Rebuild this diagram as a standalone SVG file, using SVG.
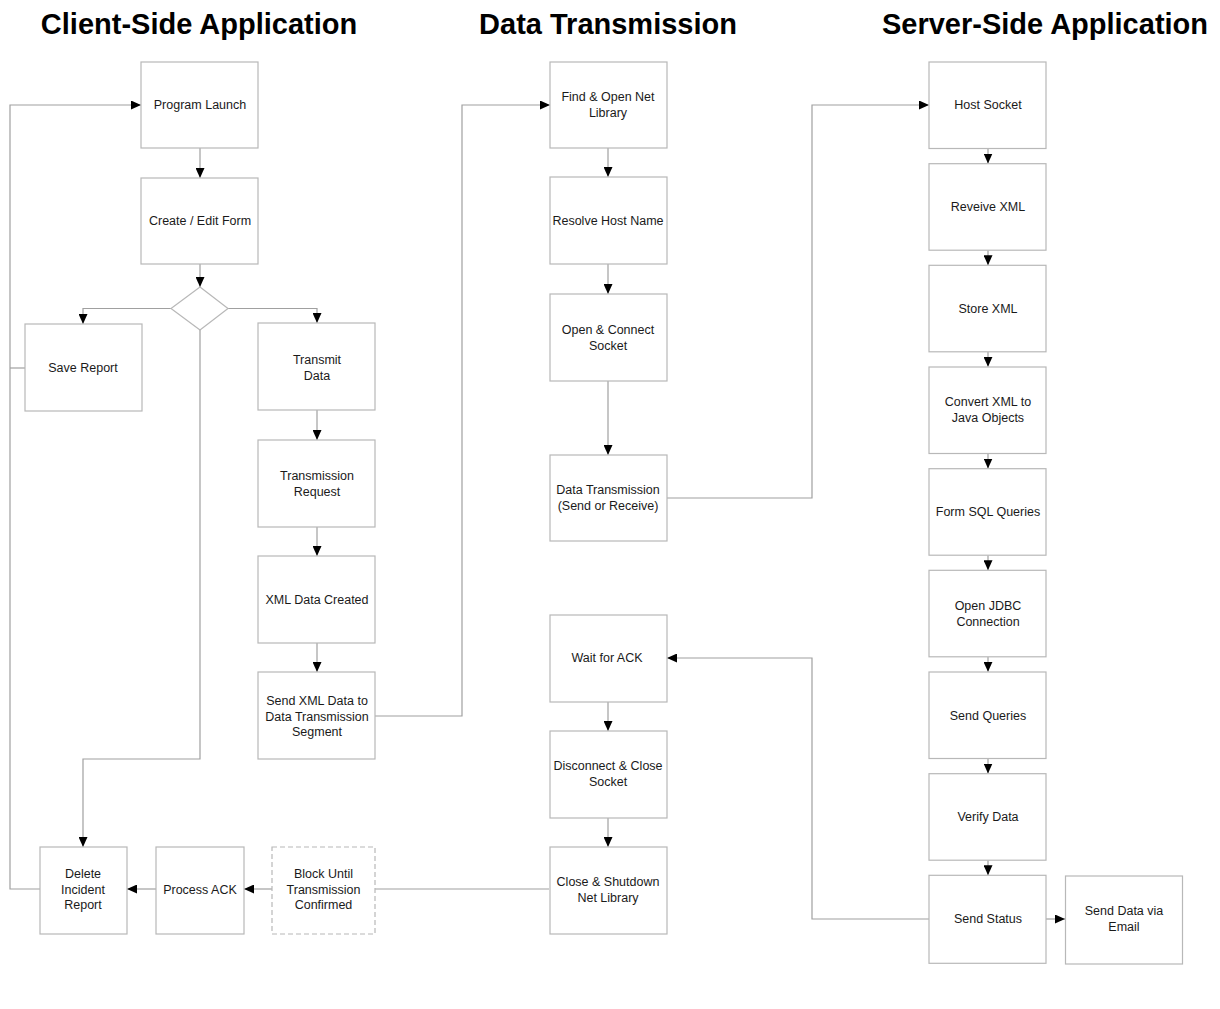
<svg xmlns="http://www.w3.org/2000/svg" width="1220" height="1009" viewBox="0 0 1220 1009">
<style>
.title{font-family:"Liberation Sans",Arial,sans-serif;font-weight:bold;font-size:29px;fill:#000;text-anchor:middle}
.box{fill:#fff;stroke:#b8b8b8;stroke-width:1.2}
.dash{stroke-dasharray:5,3}
.t{font-family:"Liberation Sans",Arial,sans-serif;font-size:12.5px;fill:#1a1a1a;text-anchor:middle}
.c{fill:none;stroke:#a0a0a0;stroke-width:1.2}
.a{marker-end:url(#ah)}
</style>
<defs>
<marker id="ah" markerUnits="userSpaceOnUse" markerWidth="10" markerHeight="9" refX="10" refY="4.5" orient="auto">
<path d="M0,0 L10,4.5 L0,9 z" fill="#000"/>
</marker>
</defs>
<rect width="1220" height="1009" fill="#fff"/>
<text class="title" x="199" y="34">Client-Side Application</text>
<text class="title" x="608" y="34">Data Transmission</text>
<text class="title" x="1045" y="34">Server-Side Application</text>

<g id="connectors">
<!-- client -->
<path class="c a" d="M200,148 V178"/>
<path class="c a" d="M200,264 V287"/>
<path class="c a" d="M171,308.5 H83 V324"/>
<path class="c a" d="M228,308.5 H317 V323"/>
<path class="c a" d="M317,410 V440"/>
<path class="c a" d="M317,527 V556"/>
<path class="c a" d="M317,643 V672"/>
<path class="c a" d="M200,330 V759 H83 V847"/>
<path class="c a" d="M40,889 H10 V105 H141"/>
<path class="c" d="M10,368 H25"/>
<path class="c a" d="M156,889 H127"/>
<path class="c a" d="M272,889 H244"/>
<path class="c" d="M549,889 H375"/>
<path class="c a" d="M375,716 H462 V105 H550"/>
<!-- data transmission -->
<path class="c a" d="M608,148 V177"/>
<path class="c a" d="M608,264 V294"/>
<path class="c a" d="M608,381 V455"/>
<path class="c a" d="M667,498 H812 V105 H929"/>
<path class="c a" d="M608,702 V731"/>
<path class="c a" d="M608,818 V847"/>
<path class="c a" d="M929,919 H812 V658 H667"/>
<!-- server -->
<path class="c a" d="M988,148.5 V163.5"/>
<path class="c a" d="M988,250.2 V265.2"/>
<path class="c a" d="M988,351.8 V366.8"/>
<path class="c a" d="M988,453.5 V468.5"/>
<path class="c a" d="M988,555.2 V570.2"/>
<path class="c a" d="M988,656.8 V671.8"/>
<path class="c a" d="M988,758.5 V773.5"/>
<path class="c a" d="M988,860.2 V875.2"/>
<path class="c a" d="M1046,919 H1065"/>
</g>

<g id="program-launch"><rect class="box" x="141" y="62" width="117" height="86"/><text class="t" x="200" y="109">Program Launch</text></g>
<g id="create-edit-form"><rect class="box" x="141" y="178" width="117" height="86"/><text class="t" x="200" y="225">Create / Edit Form</text></g>
<g id="decision"><path class="box" d="M200,287 L228,308.5 L200,330 L171,308.5 z"/></g>
<g id="save-report"><rect class="box" x="25" y="324" width="117" height="87"/><text class="t" x="83" y="372">Save Report</text></g>
<g id="transmit-data"><rect class="box" x="258" y="323" width="117" height="87"/><text class="t" x="317" y="364">Transmit</text><text class="t" x="317" y="379.5">Data</text></g>
<g id="transmission-request"><rect class="box" x="258" y="440" width="117" height="87"/><text class="t" x="317" y="480">Transmission</text><text class="t" x="317" y="495.5">Request</text></g>
<g id="xml-data-created"><rect class="box" x="258" y="556" width="117" height="87"/><text class="t" x="317" y="604">XML Data Created</text></g>
<g id="send-xml-data"><rect class="box" x="258" y="672" width="117" height="87"/><text class="t" x="317" y="705">Send XML Data to</text><text class="t" x="317" y="720.5">Data Transmission</text><text class="t" x="317" y="736">Segment</text></g>
<g id="delete-incident-report"><rect class="box" x="40" y="847" width="87" height="87"/><text class="t" x="83" y="878">Delete</text><text class="t" x="83" y="893.5">Incident</text><text class="t" x="83" y="909">Report</text></g>
<g id="process-ack"><rect class="box" x="156" y="847" width="88" height="87"/><text class="t" x="200" y="893.5">Process ACK</text></g>
<g id="block-until"><rect class="box dash" x="272" y="847" width="103" height="87"/><text class="t" x="323.5" y="878">Block Until</text><text class="t" x="323.5" y="893.5">Transmission</text><text class="t" x="323.5" y="909">Confirmed</text></g>

<g id="find-open-net-library"><rect class="box" x="550" y="62" width="117" height="86"/><text class="t" x="608" y="101">Find &amp; Open Net</text><text class="t" x="608" y="117">Library</text></g>
<g id="resolve-host-name"><rect class="box" x="550" y="177" width="117" height="87"/><text class="t" x="608" y="225">Resolve Host Name</text></g>
<g id="open-connect-socket"><rect class="box" x="550" y="294" width="117" height="87"/><text class="t" x="608" y="334">Open &amp; Connect</text><text class="t" x="608" y="349.5">Socket</text></g>
<g id="data-transmission"><rect class="box" x="550" y="455" width="117" height="86"/><text class="t" x="608" y="494">Data Transmission</text><text class="t" x="608" y="509.5">(Send or Receive)</text></g>
<g id="wait-for-ack"><rect class="box" x="550" y="615" width="117" height="87"/><text class="t" x="607" y="662">Wait for ACK</text></g>
<g id="disconnect-close-socket"><rect class="box" x="550" y="731" width="117" height="87"/><text class="t" x="608" y="770">Disconnect &amp; Close</text><text class="t" x="608" y="785.5">Socket</text></g>
<g id="close-shutdown-net-library"><rect class="box" x="550" y="847" width="117" height="87"/><text class="t" x="608" y="886">Close &amp; Shutdown</text><text class="t" x="608" y="901.5">Net Library</text></g>

<g id="host-socket"><rect class="box" x="929" y="62" width="117" height="86.5"/><text class="t" x="988" y="109">Host Socket</text></g>
<g id="receive-xml"><rect class="box" x="929" y="163.7" width="117" height="86.5"/><text class="t" x="988" y="211">Reveive XML</text></g>
<g id="store-xml"><rect class="box" x="929" y="265.3" width="117" height="86.5"/><text class="t" x="988" y="313">Store XML</text></g>
<g id="convert-xml"><rect class="box" x="929" y="367" width="117" height="86.5"/><text class="t" x="988" y="406">Convert XML to</text><text class="t" x="988" y="421.5">Java Objects</text></g>
<g id="form-sql-queries"><rect class="box" x="929" y="468.7" width="117" height="86.5"/><text class="t" x="988" y="516">Form SQL Queries</text></g>
<g id="open-jdbc"><rect class="box" x="929" y="570.3" width="117" height="86.5"/><text class="t" x="988" y="610">Open JDBC</text><text class="t" x="988" y="625.5">Connection</text></g>
<g id="send-queries"><rect class="box" x="929" y="672" width="117" height="86.5"/><text class="t" x="988" y="720">Send Queries</text></g>
<g id="verify-data"><rect class="box" x="929" y="773.7" width="117" height="86.5"/><text class="t" x="988" y="821">Verify Data</text></g>
<g id="send-status"><rect class="box" x="929" y="875.3" width="117" height="88"/><text class="t" x="988" y="923">Send Status</text></g>
<g id="send-data-email"><rect class="box" x="1065.5" y="876" width="117" height="88"/><text class="t" x="1124" y="915">Send Data via</text><text class="t" x="1124" y="930.5">Email</text></g>
</svg>
